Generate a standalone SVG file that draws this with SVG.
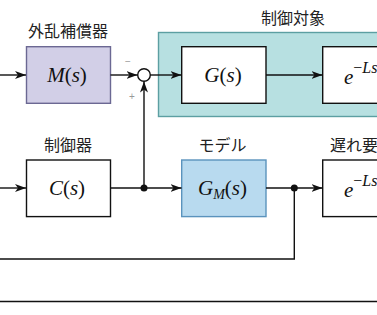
<svg xmlns="http://www.w3.org/2000/svg" width="377" height="315" viewBox="0 0 377 315">
<defs>
<marker id="arr" viewBox="0 0 11 8" refX="11" refY="4" markerWidth="11" markerHeight="8" markerUnits="userSpaceOnUse" orient="auto">
<path d="M0,0 L11,4 L0,8 L3,4 Z" fill="#111"/>
</marker>
<style>
.lbl{font-family:"Noto Sans CJK JP","Noto Sans",sans-serif;font-size:16px;fill:#222;text-anchor:middle}
.math{font-family:"Liberation Serif",serif;font-size:21px;fill:#111;text-anchor:middle}
.it{font-style:italic}
.blk{fill:#fff;stroke:#111;stroke-width:1.4}
.ln{fill:none;stroke:#111;stroke-width:1.4}
.sm{font-family:"Liberation Sans",sans-serif;font-size:10px;fill:#999;text-anchor:middle}
</style>
</defs>
<rect x="0" y="0" width="377" height="315" fill="#fff"/>
<g id="plant">
<rect x="158.5" y="32.5" width="230" height="84" fill="#b7e0e1" stroke="#5c9fa2" stroke-width="1.4"/>
<text class="lbl" x="293" y="24">制御対象</text>
</g>
<g id="M">
<rect x="26.5" y="46.7" width="84" height="56.6" fill="#d2cfe7" stroke="#6b6893" stroke-width="1.4"/>
<text class="lbl" x="68" y="37">外乱補償器</text>
<text class="math" x="67" y="82"><tspan class="it">M</tspan>(<tspan class="it">s</tspan>)</text>
</g>
<g id="sum">
<circle cx="144" cy="75" r="6.3" fill="#fff" stroke="#111" stroke-width="1.4"/>
<text class="sm" x="128" y="65">−</text>
<text class="sm" x="132" y="100">+</text>
</g>
<g id="G">
<rect x="181.7" y="46.7" width="84.3" height="56.6" class="blk"/>
<text class="math" x="223" y="82"><tspan class="it">G</tspan>(<tspan class="it">s</tspan>)</text>
</g>
<g id="delay1">
<rect x="322.7" y="46.7" width="84.3" height="56.6" class="blk"/>
<text class="math" x="344" y="84" style="text-anchor:start"><tspan class="it">e</tspan><tspan dy="-11" font-size="16"><tspan>−</tspan><tspan class="it">Ls</tspan></tspan></text>
</g>
<g id="C">
<rect x="26.5" y="160" width="84" height="56.6" class="blk"/>
<text class="lbl" x="68" y="151">制御器</text>
<text class="math" x="67" y="195"><tspan class="it">C</tspan>(<tspan class="it">s</tspan>)</text>
</g>
<g id="GM">
<rect x="181.7" y="160" width="84.3" height="56.6" fill="#b8daef" stroke="#5a93bd" stroke-width="1.4"/>
<text class="lbl" x="222.5" y="151">モデル</text>
<text class="math" x="222.5" y="195"><tspan class="it">G</tspan><tspan class="it" font-size="14" dy="4">M</tspan><tspan dy="-4">(</tspan><tspan class="it">s</tspan>)</text>
</g>
<g id="delay2">
<rect x="322.7" y="160" width="84.3" height="56.6" class="blk"/>
<text class="lbl" x="330" y="151" style="text-anchor:start">遅れ要素</text>
<text class="math" x="344" y="197" style="text-anchor:start"><tspan class="it">e</tspan><tspan dy="-11" font-size="16"><tspan>−</tspan><tspan class="it">Ls</tspan></tspan></text>
</g>
<g id="connectors">
<line class="ln" x1="0" y1="75" x2="26" y2="75" marker-end="url(#arr)"/>
<line class="ln" x1="110.5" y1="75" x2="137.5" y2="75" marker-end="url(#arr)"/>
<line class="ln" x1="150.3" y1="75" x2="181.5" y2="75" marker-end="url(#arr)"/>
<line class="ln" x1="266" y1="75" x2="322.5" y2="75" marker-end="url(#arr)"/>
<line class="ln" x1="0" y1="188" x2="26" y2="188" marker-end="url(#arr)"/>
<line class="ln" x1="110.5" y1="188" x2="181.5" y2="188" marker-end="url(#arr)"/>
<line class="ln" x1="144" y1="188" x2="144" y2="81.5" marker-end="url(#arr)"/>
<line class="ln" x1="266" y1="188" x2="322.5" y2="188" marker-end="url(#arr)"/>
<polyline class="ln" points="294.3,188 294.3,259 0,259"/>
<line class="ln" x1="0" y1="301.5" x2="377" y2="301.5"/>
<circle cx="144" cy="188" r="3.5" fill="#111"/>
<circle cx="294.3" cy="188" r="3.5" fill="#111"/>
</g>
</svg>
